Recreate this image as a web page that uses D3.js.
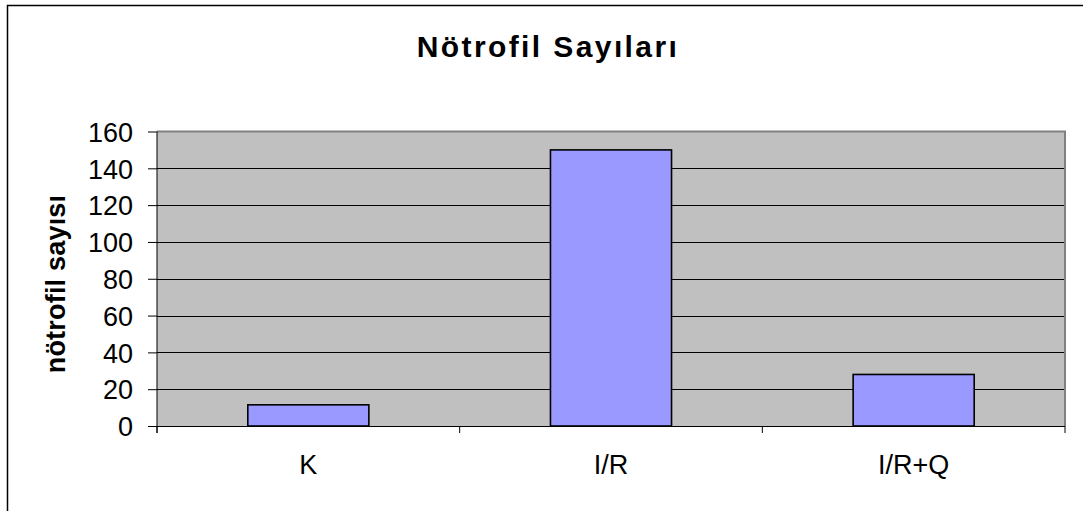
<!DOCTYPE html>
<html>
<head>
<meta charset="utf-8">
<script src="https://cdn.jsdelivr.net/npm/d3@7"></script>
<style>
  body { margin: 0; background: #fff; }
  svg { display: block; font-family: "Liberation Sans", Arial, sans-serif; }
</style>
</head>
<body>
<div id="chart"></div>
<script>
// data
const categories = ["K", "I/R", "I/R+Q"];
const values = [11.5, 150, 28];
const yTicks = [0, 20, 40, 60, 80, 100, 120, 140, 160];
const titleText = "Nötrofil Sayıları";
const yLabelText = "nötrofil sayısı";

const width = 1083;
const height = 511;
const plot = { left: 157, top: 131.5, right: 1065, bottom: 426 };

const svg = d3.select("#chart")
  .append("svg")
  .attr("width", width)
  .attr("height", height);

// outer chart frame (right and bottom run off the picture)
svg.append("rect")
  .attr("x", 7.5).attr("y", 5.5)
  .attr("width", 1100).attr("height", 540)
  .attr("fill", "#fff")
  .attr("stroke", "#000")
  .attr("stroke-width", 1.5);

const x = d3.scaleBand()
  .domain(categories)
  .range([plot.left, plot.right])
  .paddingInner(0.6)
  .paddingOuter(0.3);

const y = d3.scaleLinear()
  .domain([0, 160])
  .range([plot.bottom, plot.top]);

// plot area
svg.append("rect")
  .attr("x", plot.left).attr("y", plot.top)
  .attr("width", plot.right - plot.left)
  .attr("height", plot.bottom - plot.top)
  .attr("fill", "#c0c0c0");

// gridlines
svg.append("g")
  .selectAll("line")
  .data(yTicks.filter(d => d > 0 && d < 160))
  .join("line")
  .attr("x1", plot.left).attr("x2", plot.right)
  .attr("y1", d => Math.round(y(d)) + 0.5)
  .attr("y2", d => Math.round(y(d)) + 0.5)
  .attr("stroke", "#000")
  .attr("stroke-width", 1);

// plot border top / right (gray)
svg.append("path")
  .attr("d", `M${plot.left},${plot.top} H${plot.right} V${plot.bottom}`)
  .attr("fill", "none")
  .attr("stroke", "#808080")
  .attr("stroke-width", 2);

// bars
svg.append("g")
  .selectAll("rect")
  .data(categories)
  .join("rect")
  .attr("x", d => x(d))
  .attr("y", (d, i) => y(values[i]))
  .attr("width", x.bandwidth())
  .attr("height", (d, i) => y(0) - y(values[i]))
  .attr("fill", "#9999ff")
  .attr("stroke", "#000")
  .attr("stroke-width", 1.6);

// y axis
const yAxis = svg.append("g")
  .attr("transform", `translate(${plot.left},0)`)
  .call(d3.axisLeft(y).tickValues(yTicks).tickSize(9).tickPadding(15).tickSizeOuter(0));
yAxis.select(".domain").remove();
yAxis.append("line")
  .attr("x1", 0).attr("x2", 0)
  .attr("y1", plot.top).attr("y2", plot.bottom + 7)
  .attr("stroke", "#000");
yAxis.selectAll("text")
  .attr("font-size", 27)
  .attr("fill", "#000")
  .attr("dy", "0.36em");

// x axis: ticks on category boundaries
const xAxis = svg.append("g");
xAxis.append("line")
  .attr("x1", plot.left).attr("x2", plot.right)
  .attr("y1", plot.bottom + 0.5).attr("y2", plot.bottom + 0.5)
  .attr("stroke", "#000");
const step = x.step();
xAxis.selectAll(".tick")
  .data(d3.range(categories.length + 1))
  .join("line")
  .attr("class", "tick")
  .attr("x1", i => plot.left + i * step)
  .attr("x2", i => plot.left + i * step)
  .attr("y1", plot.bottom)
  .attr("y2", plot.bottom + 7)
  .attr("stroke", "#000");
xAxis.selectAll(".cat")
  .data(categories)
  .join("text")
  .attr("class", "cat")
  .attr("x", d => x(d) + x.bandwidth() / 2)
  .attr("y", 474)
  .attr("text-anchor", "middle")
  .attr("font-size", 27)
  .text(d => d);

// title
svg.append("text")
  .attr("x", 548)
  .attr("y", 57)
  .attr("text-anchor", "middle")
  .attr("font-size", 30)
  .attr("font-weight", "bold")
  .attr("letter-spacing", "2.4px")
  .text(titleText);

// y label
svg.append("text")
  .attr("transform", "translate(65,284) rotate(-90)")
  .attr("text-anchor", "middle")
  .attr("font-size", 27)
  .attr("font-weight", "bold")
  .attr("letter-spacing", "0.2px")
  .text(yLabelText);
</script>
</body>
</html>
